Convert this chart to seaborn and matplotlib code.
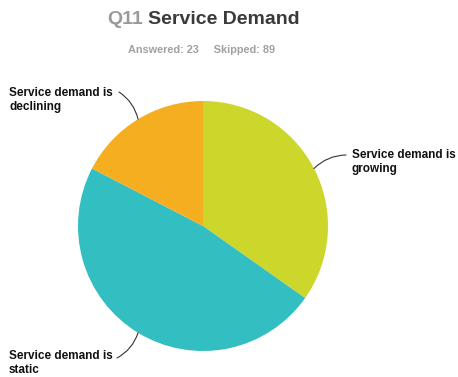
import numpy as np
import matplotlib
matplotlib.use("Agg")
import matplotlib.pyplot as plt
import seaborn as sns

# Survey responses for Q11
categories = ["Service demand is growing", "Service demand is static", "Service demand is declining"]
label_lines = [["Service demand is", "growing"], ["Service demand is", "static"], ["Service demand is", "declining"]]
counts = [8, 11, 4]
answered = 23
skipped = 89
colors = ["#CDD62B", "#33BEC1", "#F5AE20"]

sns.set_theme(style="white")
plt.rcParams["font.family"] = ["Liberation Sans", "DejaVu Sans"]

W, H = 458, 377
fig = plt.figure(figsize=(W / 100, H / 100), dpi=100)
fig.patch.set_facecolor("white")

# pie axes: centre (203, 226) px, radius 125 px
cx, cy, r = 203, 226, 125
ax = fig.add_axes([(cx - r) / W, (H - cy - r) / H, 2 * r / W, 2 * r / H])
wedges, _ = ax.pie(counts, colors=colors, startangle=90, counterclock=False,
                   radius=1, wedgeprops=dict(linewidth=0))
ax.set_xlim(-1, 1)
ax.set_ylim(-1, 1)
ax.set_aspect("equal")
ax.axis("off")

# title & subtitle
fig.text(107 / W, 1 - 20 / H, "Q11", ha="left", va="center", fontsize=14,
         fontweight="bold", color="#9A9A9A")
fig.text(148 / W, 1 - 20 / H, "Service Demand", ha="left", va="center", fontsize=14,
         fontweight="bold", color="#3A3A3A")
fig.text(202 / W, 1 - 50 / H, f"Answered: {answered}     Skipped: {skipped}",
         ha="center", va="center", fontsize=7.8, fontweight="bold", color="#A0A0A0")

# label placement (left x, first line y) in pixels, connector end in pixels
label_pos = [(352, 155), (9, 356), (9, 93)]
conn_end = [(346, 155), (117, 358), (119, 92)]
conn_rad = [0.2, 0.2, -0.2]

total = sum(counts)
start = 90.0
for i, c in enumerate(counts):
    span = 360.0 * c / total
    mid = np.deg2rad(start - span / 2)
    start -= span
    ex, ey = np.cos(mid), np.sin(mid)
    lx, ly = label_pos[i]
    for j, line in enumerate(label_lines[i]):
        fig.text(lx / W, 1 - (ly + j * 14) / H, line, ha="left", va="center",
                 fontsize=8.5, fontweight="bold", color="#111111")
    px, py = conn_end[i]
    ax.annotate("", xy=(ex, ey), xycoords="data",
                xytext=(px, H - py), textcoords="figure pixels",
                arrowprops=dict(arrowstyle="-", color="#333333", lw=0.8,
                                connectionstyle=f"arc3,rad={conn_rad[i]}",
                                shrinkA=0, shrinkB=0))

fig.savefig("out.png", dpi=100, facecolor="white")
